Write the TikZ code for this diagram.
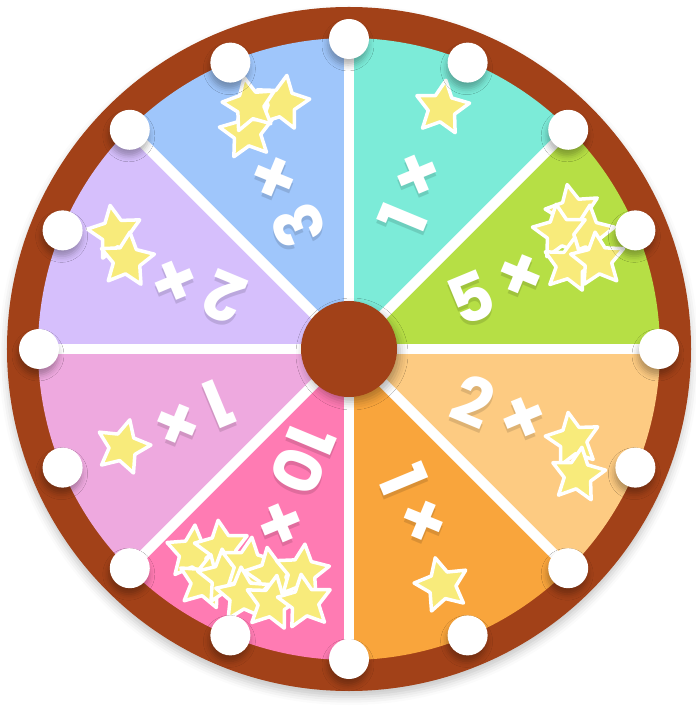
\documentclass[tikz,border=0pt]{standalone}
\usepackage{fontspec}
\setmainfont{Poppins}
\usetikzlibrary{shapes.geometric,backgrounds,shadows.blur}
\definecolor{rim}{HTML}{A24118}
\definecolor{mint}{HTML}{7CEBD8}
\definecolor{lime}{HTML}{B6DF45}
\definecolor{peach}{HTML}{FDCB82}
\definecolor{tangerine}{HTML}{F9A53C}
\definecolor{rose}{HTML}{FF7BB3}
\definecolor{blush}{HTML}{EEA9DF}
\definecolor{lilac}{HTML}{D6BFFC}
\definecolor{sky}{HTML}{9FC6FB}
\definecolor{staryel}{HTML}{F8EB7B}
\tikzset{
  rimdisc/.style={circle,fill=rim,inner sep=0pt,minimum size=684pt,
    blur shadow={shadow xshift=0pt,shadow yshift=-6pt,shadow blur radius=8pt,shadow opacity=22}},
  divider/.style={draw=white,line width=10pt},
  peg/.style={circle,fill=white,inner sep=0pt,minimum size=40pt,
    blur shadow={shadow xshift=-1pt,shadow yshift=-6pt,shadow blur radius=6pt,shadow opacity=30}},
  hubdisc/.style={circle,fill=rim,inner sep=0pt,minimum size=96pt,
    blur shadow={shadow xshift=3pt,shadow yshift=-5pt,shadow blur radius=8pt,shadow opacity=30}},
  numtxt/.style={text=white,inner sep=0pt,font=\fontsize{66}{66}\selectfont\bfseries},
  timestxt/.style={text=white,inner sep=0pt,font=\fontsize{70}{70}\selectfont\bfseries},
  shade/.style={text=black,opacity=0.12},
  twinkle/.style={star,star points=5,star point ratio=2,inner sep=0pt,minimum size=56pt,
    fill=staryel,draw=white,line width=3.5pt,line join=round},
}
\begin{document}
\begin{tikzpicture}[x=1pt,y=1pt]
\useasboundingbox (-349,-362) rectangle (346,349);

% ==== multipliers (read outward along each wedge), soft shadow first ====
\foreach \a/\n [count=\i] in {22.5/5, 67.5/1, 112.5/3, 157.5/2, 202.5/1, 247.5/10, 292.5/1, 337.5/2}{
  \node[numtxt,shade,yshift=-4pt,rotate=\a,anchor=east] at (\a:154) {\n};
  \node[timestxt,shade,yshift=-4pt,rotate=\a] at (\a:187) {×};
  \node[numtxt,rotate=\a,anchor=east] (num\i) at (\a:154) {\n};
  \node[timestxt,rotate=\a] (times\i) at (\a:187) {×};
}

% ==== stars ====
\node[twinkle,rotate=-8]  (mintA) at (93,241) {};
\node[twinkle,rotate=12]  (limeA) at (224,137) {};
\node[twinkle,rotate=-6]  (limeC) at (238,116) {};
\node[twinkle,rotate=8]   (limeB) at (211,117) {};
\node[twinkle,rotate=-10] (limeD) at (221,84) {};
\node[twinkle,rotate=6]   (limeE) at (249,89) {};
\node[twinkle,rotate=10]  (peachA) at (224,-91) {};
\node[twinkle,rotate=-8]  (peachB) at (229,-126) {};
\node[twinkle,rotate=14]  (tangA) at (93,-236) {};
\node[twinkle,rotate=-4]  (roseA) at (-156,-204) {};
\node[twinkle,rotate=8]   (roseB) at (-127,-199) {};
\node[twinkle,rotate=-12] (roseC) at (-144,-233) {};
\node[twinkle,rotate=6]   (roseD) at (-124,-228) {};
\node[twinkle,rotate=-8]  (roseE) at (-101,-216) {};
\node[twinkle,rotate=10]  (roseF) at (-77,-226) {};
\node[twinkle,rotate=-6]  (roseG) at (-47,-223) {};
\node[twinkle,rotate=4]   (roseH) at (-106,-246) {};
\node[twinkle,rotate=-10] (roseI) at (-77,-254) {};
\node[twinkle,rotate=8]   (roseJ) at (-44,-253) {};
\node[twinkle,rotate=-14] (blushA) at (-226,-98) {};
\node[twinkle,rotate=10]  (lilacA) at (-234,116) {};
\node[twinkle,rotate=-6]  (lilacB) at (-222,89) {};
\node[twinkle,rotate=-10] (skyC) at (-67,246) {};
\node[twinkle,rotate=8]   (skyB) at (-102,217) {};
\node[twinkle,rotate=12]  (skyA) at (-99,244) {};

% ==== pegs and hub ====
\foreach \k in {0,...,15}
  \node[peg] (p\k) at ({22.5*\k}:310) {};
\node[hubdisc] (hub) at (0,0) {};

% ==== wheel body ====
\begin{scope}[on background layer]
  \node[rimdisc] (rim) at (0,0) {};
  \foreach \a/\col in {0/lime, 45/mint, 90/sky, 135/lilac, 180/blush, 225/rose, 270/tangerine, 315/peach}
    \fill[\col] (0,0) -- (\a:311) arc[start angle=\a, end angle=\a+45, radius=311] -- cycle;
  \foreach \k in {0,2,...,14}
    \draw[divider] (hub.center) -- (p\k.center);
\end{scope}

\end{tikzpicture}
\end{document}
